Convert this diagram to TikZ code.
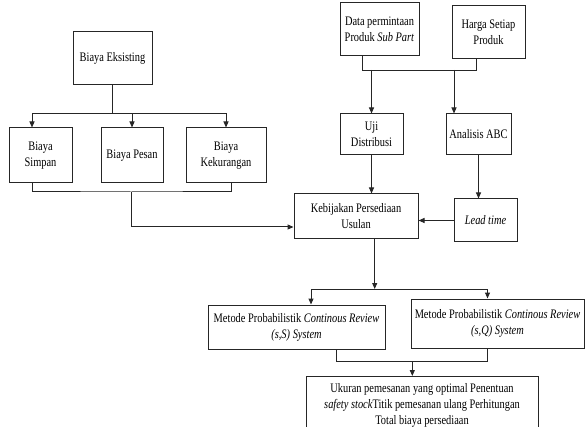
\documentclass[tikz,border=0pt]{standalone}
\usepackage{fontspec}
\setmainfont{Liberation Serif}[FakeStretch=0.8]
\usetikzlibrary{arrows.meta}
\tikzset{
	kotak/.style={draw=black!85, line width=1pt, align=center, inner sep=2pt, font=\fontsize{13}{16}\selectfont},
	garis/.style={draw=black!85, line width=1pt},
	panah/.style={garis, -{Triangle[length=6pt,width=5pt]}}
}

\begin{document}
\begin{tikzpicture}[x=1pt, y=-1pt]
	%%%%% START %%%%%
	\useasboundingbox (0,0) rectangle (585,427);
	
	\node[kotak, minimum width=79pt, minimum height=53pt] (eks) at (112.5,58.5) {Biaya Eksisting};
	\node[kotak, minimum width=63pt, minimum height=55pt] (simpan) at (40.5,155.5) {Biaya\\Simpan};
	\node[kotak, minimum width=62pt, minimum height=55pt] (pesan) at (132,155.5) {Biaya Pesan};
	\node[kotak, minimum width=80pt, minimum height=55pt] (kurang) at (226,155.5) {Biaya\\Kekurangan};
	
	\node[kotak, minimum width=79pt, minimum height=53pt] (data) at (379.5,29.5) {Data permintaan\\Produk \textit{Sub Part}};
	\node[kotak, minimum width=73pt, minimum height=53pt] (harga) at (488.5,32.5) {Harga Setiap\\Produk};
	\node[kotak, minimum width=63pt, minimum height=41pt] (uji) at (371.5,134.5) {Uji\\Distribusi};
	\node[kotak, minimum width=65pt, minimum height=41pt] (abc) at (478.5,134.5) {Analisis ABC};
	
	\node[kotak, minimum width=124pt, minimum height=45pt] (kebijakan) at (356,216.5) {Kebijakan Persediaan\\Usulan};
	\node[kotak, minimum width=63pt, minimum height=43pt] (lead) at (485.5,220.5) {\textit{Lead time}};
	
	\node[kotak, minimum width=177pt, minimum height=44pt] (ss) at (296.5,327) {Metode Probabilistik \textit{Continous Review}\\\textit{(s,S) System}};
	\node[kotak, minimum width=173pt, minimum height=49pt] (sq) at (497.5,323.5) {Metode Probabilistik \textit{Continous Review}\\\textit{(s,Q) System}};
	\node[kotak, minimum width=232pt, minimum height=58pt, anchor=north] (ukuran) at (422,376) {Ukuran pemesanan yang optimal Penentuan\\\textit{safety stock}Titik pemesanan ulang Perhitungan\\Total biaya persediaan};
	
	% biaya eksisting
	\coordinate (cab1) at (112.5,114);
	\draw[garis] (eks.south) -- (cab1);
	\draw[panah] (cab1) -| ([xshift=-8.5pt]simpan.north);
	\draw[panah] (cab1) -| (kurang.north);
	\draw[panah] (pesan.north |- cab1) -- (pesan.north);
	
	\coordinate (gab1) at (131,192);
	\draw[garis] ([xshift=-8.5pt]simpan.south) |- (gab1) -| ([xshift=5pt]kurang.south);
	\draw[panah] (gab1) |- ([yshift=-10.5pt]kebijakan.west);
	
	% data dan harga
	\draw[garis] ([xshift=-17pt]data.south) -- ++(0,-14pt) -| ([xshift=-12pt]harga.south);
	\coordinate (gab2) at (419,70);
	\draw[panah] (gab2 -| uji.north) -- (uji.north);
	\draw[panah] ([xshift=-24.5pt]abc.north |- gab2) -- ([xshift=-24.5pt]abc.north);
	
	\draw[panah] (uji.south) -- (uji.south |- kebijakan.north);
	\draw[panah] (abc.south) -- (abc.south |- lead.north);
	\draw[panah] (lead.west) -- (lead.west -| kebijakan.east);
	
	% metode
	\coordinate (cab3) at (374.7,289);
	\draw[panah] ([xshift=18.7pt]kebijakan.south) -- (cab3);
	\draw[panah] (cab3) -| ([xshift=14.5pt]ss.north);
	\draw[panah] (cab3) -| ([xshift=-10pt]sq.north);
	
	\coordinate (gab3) at (412.3,361.7);
	\draw[garis] ([xshift=40pt]ss.south) |- (gab3) -| ([xshift=-10pt]sq.south);
	\draw[panah] (gab3) -- (gab3 |- ukuran.north);
	
	%%%%% END %%%%%
\end{tikzpicture}
\end{document}
